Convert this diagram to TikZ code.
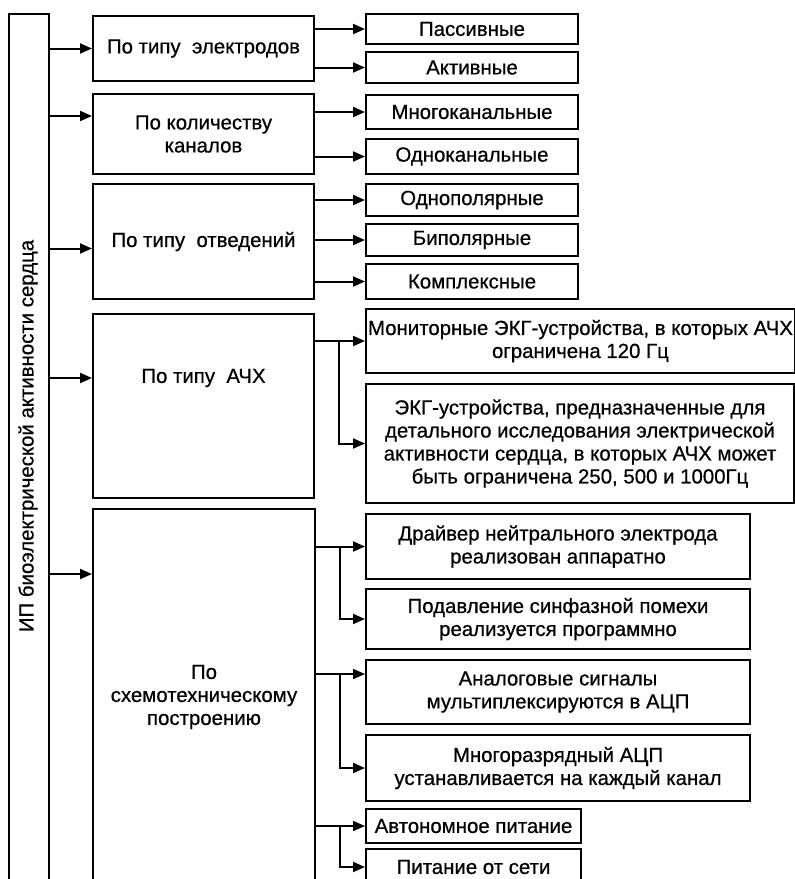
\documentclass[tikz,border=0pt]{standalone}
\usepackage{fontspec}
\setmainfont{Liberation Sans}[FakeBold=0.6]
\usetikzlibrary{arrows.meta}

\begin{document}
\begin{tikzpicture}[x=1pt,y=-1pt,line width=2pt,>={Triangle[length=12pt,width=10pt]},
  font=\fontsize{20.4}{23}\selectfont,
  box/.style={draw,anchor=north west,align=center,inner sep=2pt}]
  \useasboundingbox (0,0) rectangle (795,879);
  % left column
  \node[box,minimum width=40pt,minimum height=872pt](main) at (8,13) {};
  \node[rotate=90](maintext) at (28,436) {ИП биоэлектрической активности сердца};
  % second column
  \node[box,minimum width=221pt,minimum height=65pt](elec) at (92,15) {По типу\ \ электродов};
  \node[box,minimum width=221pt,minimum height=80pt](chan) at (92,93) {По количеству\\каналов};
  \node[box,minimum width=221pt,minimum height=115pt](lead) at (92,183) {По типу\ \ отведений};
  \node[box,minimum width=221pt,minimum height=184pt,label={[yshift=28pt]center:По типу\ \ АЧХ}](freq) at (92,313) {};
  \node[box,minimum width=222pt,minimum height=376pt](circ) at (92,508) {По\\схемотехническому\\построению};
  % third column
  \node[box,minimum width=212pt,minimum height=30pt](pass) at (365,13) {Пассивные};
  \node[box,minimum width=212pt,minimum height=31pt](act) at (365,51) {Активные};
  \node[box,minimum width=212pt,minimum height=34pt](multi) at (365,94) {Многоканальные};
  \node[box,minimum width=212pt,minimum height=35pt](single) at (365,138) {Одноканальные};
  \node[box,minimum width=212pt,minimum height=32pt](uni) at (365,183) {Однополярные};
  \node[box,minimum width=212pt,minimum height=32pt](bip) at (365,223) {Биполярные};
  \node[box,minimum width=212pt,minimum height=35pt](compl) at (365,263) {Комплексные};
  \node[box,minimum width=428pt,minimum height=64pt](mon) at (365,308) {Мониторные ЭКГ-устройства, в которых АЧХ\\ограничена 120 Гц};
  \node[box,minimum width=428pt,minimum height=119pt](ecg) at (365,383) {ЭКГ-устройства, предназначенные для\\детального исследования электрической\\активности сердца, в которых АЧХ может\\быть ограничена 250, 500 и 1000Гц};
  \node[box,minimum width=384pt,minimum height=65pt](drv) at (365,513) {Драйвер нейтрального электрода\\реализован аппаратно};
  \node[box,minimum width=384pt,minimum height=60pt](supp) at (365,588) {Подавление синфазной помехи\\реализуется программно};
  \node[box,minimum width=384pt,minimum height=64pt](anal) at (365,659) {Аналоговые сигналы\\мультиплексируются в АЦП};
  \node[box,minimum width=384pt,minimum height=66pt](adc) at (365,734) {Многоразрядный АЦП\\устанавливается на каждый канал};
  \node[box,minimum width=215pt,minimum height=34pt](battery) at (365,808) {Автономное питание};
  \node[box,minimum width=215pt,minimum height=36pt](mains) at (365,848) {Питание от сети};
  % main -> groups
  \draw[->] (main.east |- elec) -- (elec);
  \coordinate (chanin) at ([yshift=18pt]chan.west);
  \draw[->] (main.east |- chanin) -- (chanin);
  \coordinate (leadin) at ([yshift=-7pt]lead.west);
  \draw[->] (main.east |- leadin) -- (leadin);
  \coordinate (freqin) at ([yshift=28pt]freq.west);
  \draw[->] (main.east |- freqin) -- (freqin);
  \coordinate (circin) at ([yshift=123pt]circ.west);
  \draw[->] (main.east |- circin) -- (circin);
  % groups -> kinds
  \draw[->] (elec.east |- pass) -- (pass);
  \draw[->] (elec.east |- act) -- (act);
  \draw[->] (chan.east |- multi) -- (multi);
  \draw[->] (chan.east |- single) -- (single);
  \draw[->] (lead.east |- uni) -- (uni);
  \draw[->] (lead.east |- bip) -- (bip);
  \draw[->] (lead.east |- compl) -- (compl);
  \draw[->] (freq.east |- mon) -- (mon);
  \path (freq.east |- mon) ++(24,0) coordinate (forkA);
  \draw[->] (forkA) |- (ecg);
  \draw[->] (circ.east |- drv) -- (drv);
  \path (circ.east |- drv) ++(24,0) coordinate (forkB);
  \draw[->] (forkB) |- (supp);
  \coordinate (analin) at ([yshift=18pt]anal.west);
  \draw[->] (circ.east |- analin) -- (analin);
  \path (circ.east |- analin) ++(24,0) coordinate (forkC);
  \draw[->] (forkC) |- (adc);
  \draw[->] (circ.east |- battery) -- (battery);
  \path (circ.east |- battery) ++(24,0) coordinate (forkD);
  \draw[->] (forkD) |- (mains);
\end{tikzpicture}
\end{document}
